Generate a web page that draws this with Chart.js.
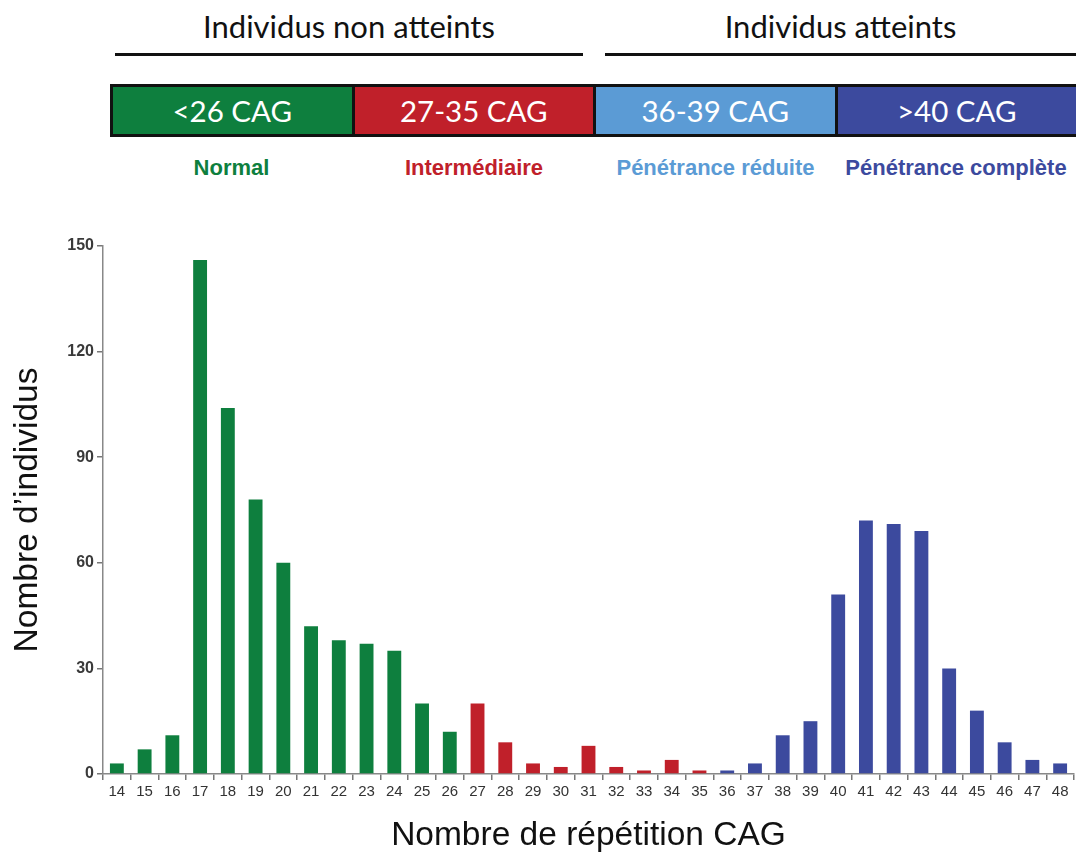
<!DOCTYPE html>
<html>
<head>
<meta charset="utf-8">
<script src="https://cdn.jsdelivr.net/npm/chart.js@4"></script>
<style>
  html, body { margin: 0; padding: 0; background: #fff; }
  body { width: 1076px; height: 856px; position: relative; overflow: hidden; }
  .group { position: absolute; top: 7px; font-family: Lato, "Open Sans", sans-serif; font-size: 31px; color: #111; text-align: center; }
  .rule { position: absolute; top: 53px; height: 3px; background: #111; }
  .bands { position: absolute; top: 84px; left: 110px; width: 966px; height: 53px; display: flex; box-sizing: border-box; border: 3px solid #111; border-right: none; }
  .band { flex: 1; color: #fff; font-family: Lato, "Open Sans", sans-serif; font-size: 29.5px; line-height: 47px; text-align: center; border-right: 3px solid #111; }
  .band:last-child { border-right: none; }
  .cls { position: absolute; top: 155px; font-family: "Liberation Sans Narrow", "Liberation Sans", sans-serif; font-weight: bold; font-size: 22px; text-align: center; }
  #wrap { position: absolute; left: 0; top: 220px; width: 1076px; height: 636px; }
</style>
</head>
<body>
<div class="group" style="left:115px;width:468px;">Individus non atteints</div>
<div class="group" style="left:605px;width:471px;">Individus atteints</div>
<div class="rule" style="left:115px;width:468px;"></div>
<div class="rule" style="left:605px;width:471px;"></div>
<div class="bands">
  <div class="band" style="background:#0e7f3e;">&lt;26 CAG</div>
  <div class="band" style="background:#c0202a;">27-35 CAG</div>
  <div class="band" style="background:#5b9bd5;">36-39 CAG</div>
  <div class="band" style="background:#3c4a9e;">&gt;40 CAG</div>
</div>
<div class="cls" style="left:110px;width:243px;color:#0e7f3e;">Normal</div>
<div class="cls" style="left:353px;width:242px;color:#c0202a;">Intermédiaire</div>
<div class="cls" style="left:595px;width:241px;color:#5b9bd5;">Pénétrance réduite</div>
<div class="cls" style="left:836px;width:240px;color:#3c4a9e;">Pénétrance complète</div>
<div id="wrap"><canvas id="myChart"></canvas></div>
<script>
const repeats = ['14', '15', '16', '17', '18', '19', '20', '21', '22', '23', '24', '25',
    '26', '27', '28', '29', '30', '31', '32', '33', '34', '35', '36', '37', '38', '39',
    '40', '41', '42', '43', '44', '45', '46', '47', '48'];

const individuals = [3, 7, 11, 146, 104, 78, 60, 42, 38, 37, 35, 20,
    12, 20, 9, 3, 2, 8, 2, 1, 4, 1, 1, 3, 11, 15,
    51, 72, 71, 69, 30, 18, 9, 4, 3];

const yTicks = [0, 30, 60, 90, 120, 150];

const green = '#0e7f3e';
const red = '#c0202a';
const blue = '#3c4a9e';

const barColors = repeats.map(r => {
    const n = Number(r);
    if (n <= 26) return green;
    if (n <= 35) return red;
    return blue;
});

const config = {
    type: 'bar',
    data: {
        labels: repeats,
        datasets: [{
            data: individuals,
            backgroundColor: barColors,
            borderWidth: 0,
            categoryPercentage: 1,
            barPercentage: 0.5,
        }]
    },
    options: {
        responsive: true,
        maintainAspectRatio: false,
        animation: false,
        layout: { padding: { top: 26, right: 2, left: 0, bottom: 0 } },
        plugins: { legend: { display: false }, tooltip: { enabled: false } },
        scales: {
            x: {
                grid: { display: true, drawOnChartArea: false, drawTicks: true, tickLength: 6, color: '#777', lineWidth: 1.5, offset: true },
                border: { color: '#888', width: 1.5 },
                ticks: { color: '#333', font: { family: 'Liberation Sans', size: 15 }, maxRotation: 0, autoSkip: false },
                title: {
                    display: true,
                    text: 'Nombre de répétition CAG',
                    color: '#111',
                    font: { family: 'Liberation Sans', size: 33.5 },
                    padding: { top: 2, bottom: 0 }
                },
                afterFit: scale => { scale.height = 82; }
            },
            y: {
                min: 0,
                max: 150,
                afterBuildTicks: scale => { scale.ticks = yTicks.map(v => ({ value: v })); },
                grid: { display: true, drawOnChartArea: false, drawTicks: true, tickLength: 6, color: '#777', lineWidth: 1.5 },
                border: { color: '#888', width: 1.5 },
                ticks: { color: '#3a3a3a', font: { family: 'Liberation Sans', size: 16, weight: 'bold' } },
                title: {
                    display: true,
                    text: 'Nombre d’individus',
                    color: '#111',
                    font: { family: 'Liberation Sans', size: 33.5 },
                    padding: { top: 8, bottom: 0 }
                },
                afterFit: scale => { scale.width = 103; }
            }
        }
    }
};

const chart = new Chart(document.getElementById('myChart'), config);
</script>
</body>
</html>
